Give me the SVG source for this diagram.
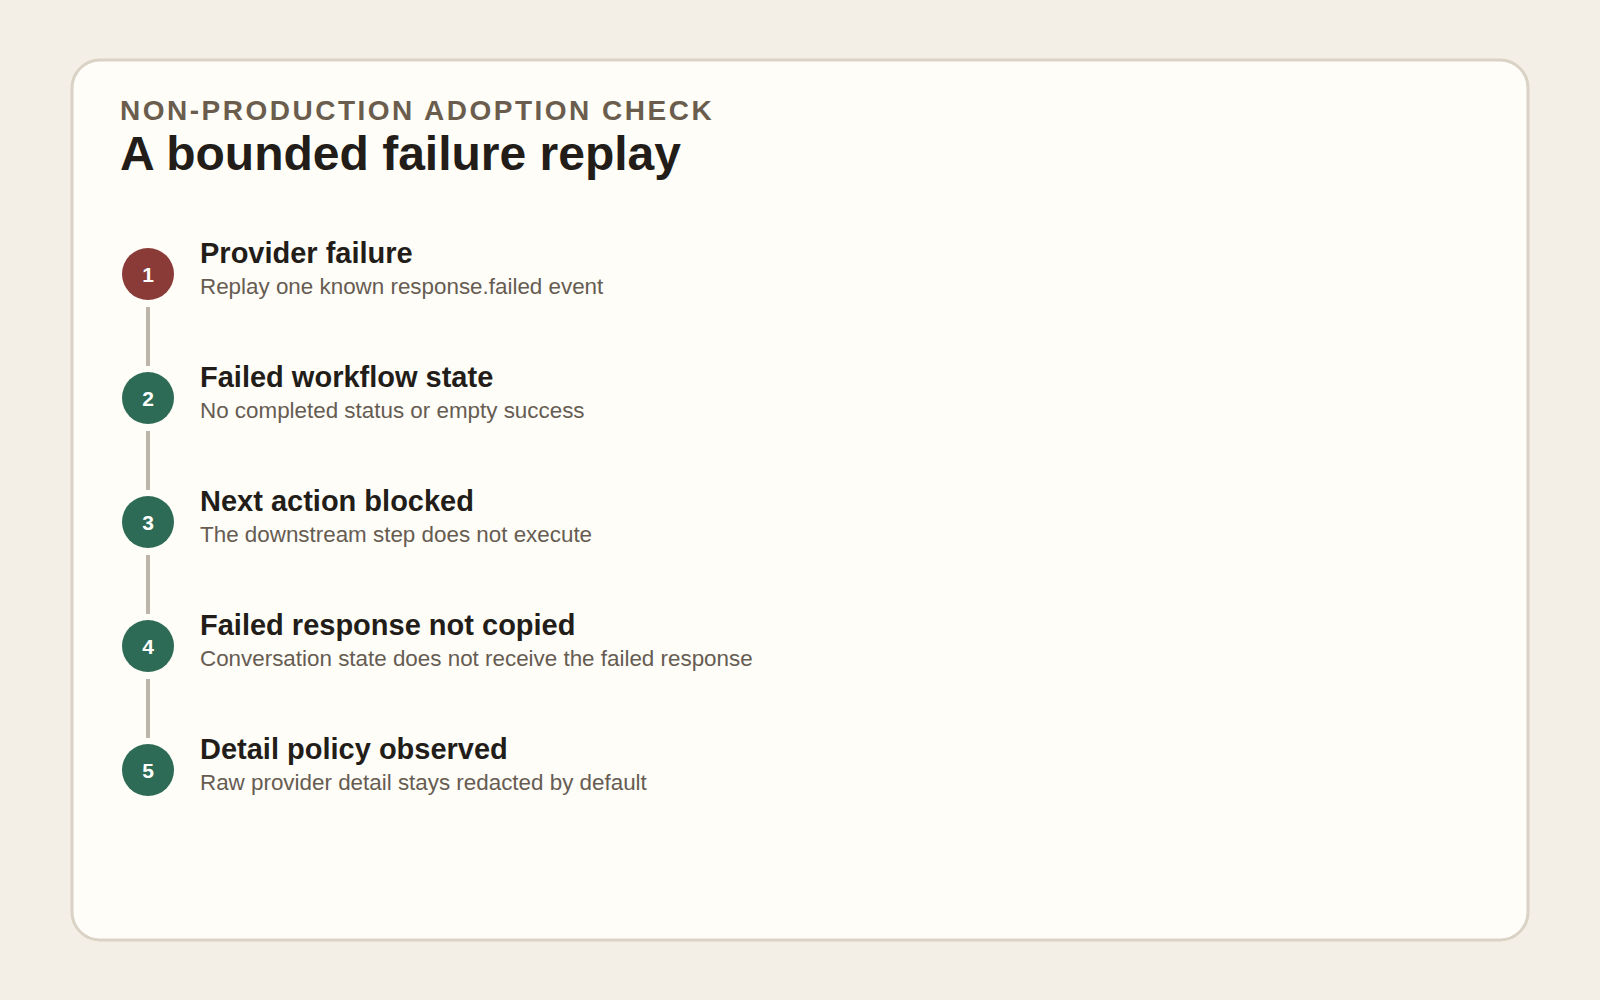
<svg xmlns="http://www.w3.org/2000/svg" width="1600" height="1000" viewBox="0 0 1600 1000">
  <style>
    .eyebrow { font-family: "Liberation Sans", Arial, sans-serif; font-weight: bold; font-size: 28px; letter-spacing: 2.5px; fill: #6b5d4d; }
    .title { font-family: "Liberation Sans", Arial, sans-serif; font-weight: bold; font-size: 48px; fill: #231d19; }
    .step-title { font-family: "Liberation Sans", Arial, sans-serif; font-weight: bold; font-size: 29px; fill: #231d19; }
    .step-sub { font-family: "Liberation Sans", Arial, sans-serif; font-size: 22.4px; fill: #665c52; }
    .num { font-family: "Liberation Sans", Arial, sans-serif; font-weight: bold; font-size: 21px; fill: #ffffff; text-anchor: middle; }
    .red { fill: #8a3b37; }
    .green { fill: #2d6b57; }
    .conn { stroke: #bdb5aa; stroke-width: 4; }
  </style>
  <rect x="0" y="0" width="1600" height="1000" fill="#f3efe6"/>
  <rect x="72" y="60" width="1456" height="880" rx="28" ry="28" fill="#fefdf8" stroke="#d9d2c5" stroke-width="3"/>
  <text class="eyebrow" x="120" y="120">NON-PRODUCTION ADOPTION CHECK</text>
  <text class="title" x="120" y="170">A bounded failure replay</text>
  <g id="connectors">
    <line class="conn" x1="148" y1="307" x2="148" y2="366"/>
    <line class="conn" x1="148" y1="431" x2="148" y2="490"/>
    <line class="conn" x1="148" y1="555" x2="148" y2="614"/>
    <line class="conn" x1="148" y1="679" x2="148" y2="738"/>
  </g>
  <g id="step1">
    <circle class="red" cx="148" cy="274" r="26"/>
    <text class="num" x="148" y="282">1</text>
    <text class="step-title" x="200" y="263">Provider failure</text>
    <text class="step-sub" x="200" y="294">Replay one known response.failed event</text>
  </g>
  <g id="step2">
    <circle class="green" cx="148" cy="398" r="26"/>
    <text class="num" x="148" y="406">2</text>
    <text class="step-title" x="200" y="387">Failed workflow state</text>
    <text class="step-sub" x="200" y="418">No completed status or empty success</text>
  </g>
  <g id="step3">
    <circle class="green" cx="148" cy="522" r="26"/>
    <text class="num" x="148" y="530">3</text>
    <text class="step-title" x="200" y="511">Next action blocked</text>
    <text class="step-sub" x="200" y="542">The downstream step does not execute</text>
  </g>
  <g id="step4">
    <circle class="green" cx="148" cy="646" r="26"/>
    <text class="num" x="148" y="654">4</text>
    <text class="step-title" x="200" y="635">Failed response not copied</text>
    <text class="step-sub" x="200" y="666">Conversation state does not receive the failed response</text>
  </g>
  <g id="step5">
    <circle class="green" cx="148" cy="770" r="26"/>
    <text class="num" x="148" y="778">5</text>
    <text class="step-title" x="200" y="759">Detail policy observed</text>
    <text class="step-sub" x="200" y="790">Raw provider detail stays redacted by default</text>
  </g>
</svg>
